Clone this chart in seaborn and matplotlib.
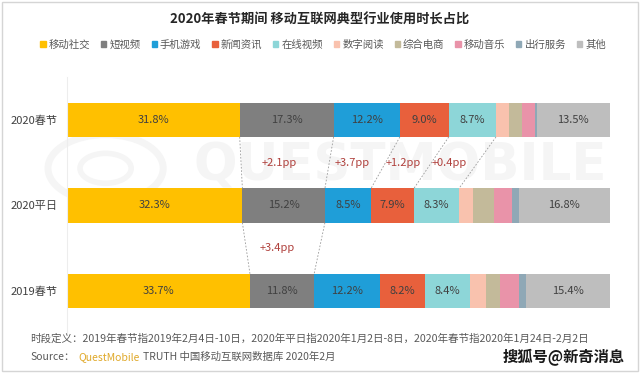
import numpy as np
import pandas as pd
import matplotlib
matplotlib.use('Agg')
import matplotlib.pyplot as plt
from matplotlib.patches import Rectangle, Circle
import seaborn as sns

periods = ['2020春节', '2020平日', '2019春节']
categories = ['移动社交', '短视频', '手机游戏', '新闻资讯', '在线视频',
              '数字阅读', '综合电商', '移动音乐', '出行服务', '其他']
colors = ['#FFC000', '#7F7F7F', '#1F9ED8', '#E8603C', '#8DD6D8',
          '#F9C2AE', '#C3BA9A', '#E993A9', '#8FA8B6', '#BEBEBE']

share_2020_spring = [31.8, 17.3, 12.2, 9.0, 8.7, 2.4, 2.4, 2.4, 0.3, 13.5]
share_2020_weekday = [32.3, 15.2, 8.5, 7.9, 8.3, 2.6, 3.8, 3.4, 1.2, 16.8]
share_2019_spring = [33.7, 11.8, 12.2, 8.2, 8.4, 2.8, 2.7, 3.5, 1.3, 15.4]

# which segments carry a % label
labelled = ['移动社交', '短视频', '手机游戏', '新闻资讯', '在线视频', '其他']

# change labels between rows: (upper row, lower row, category, text)
diff_labels = [
    ('2020春节', '2020平日', '短视频', '+2.1pp'),
    ('2020春节', '2020平日', '手机游戏', '+3.7pp'),
    ('2020春节', '2020平日', '新闻资讯', '+1.2pp'),
    ('2020春节', '2020平日', '在线视频', '+0.4pp'),
    ('2020平日', '2019春节', '短视频', '+3.4pp'),
]

df = pd.DataFrame([share_2020_spring, share_2020_weekday, share_2019_spring],
                  index=periods, columns=categories)
cum = df.cumsum(axis=1)
start = cum - df

sns.set_style('white')
plt.rcParams['font.family'] = ['Noto Sans CJK SC', 'DejaVu Sans']

fig = plt.figure(figsize=(6.4, 3.74), dpi=100)
ax = fig.add_axes([67 / 640, 1 - 334 / 374, 543 / 640, 257 / 374])

# very faint logo watermark behind everything
fig.text(0.625, 0.555, 'QUESTMOBILE', fontsize=37, fontweight='bold',
         color='#F5F5F5', ha='center', va='center', family='DejaVu Sans', zorder=-2)
for r, lw in [(0.09, 5), (0.04, 4)]:
    fig.patches.append(Circle((0.165, 0.55), r, transform=fig.transFigure,
                              fill=False, edgecolor='#F5F5F5', lw=lw, zorder=-2))

bar_h = 0.4
# stacked bars: draw cumulative totals from longest to shortest
for cat, col in reversed(list(zip(categories, colors))):
    sns.barplot(x=cum[cat].values, y=periods, order=periods, orient='h',
                color=col, saturation=1, width=bar_h, linewidth=0, ax=ax,
                zorder=2)

for i, p in enumerate(periods):
    for cat in labelled:
        mid = start.loc[p, cat] + df.loc[p, cat] / 2
        ax.text(mid, i, f'{df.loc[p, cat]:.1f}%', ha='center', va='center',
                fontsize=8, color='#404040', zorder=4)

dash_kw = dict(color='#9A9A9A', lw=0.6, ls=(0, (2, 2)), zorder=3)
drawn = set()
for up, low, cat, txt in diff_labels:
    iu, il = periods.index(up), periods.index(low)
    xs = []
    for edge in (start, cum):
        x0, x1 = edge.loc[up, cat], edge.loc[low, cat]
        key = (iu, round(x0, 2))
        if key not in drawn:
            ax.plot([x0, x1], [iu + bar_h / 2, il - bar_h / 2], **dash_kw)
            drawn.add(key)
        xs.append((x0 + x1) / 2)
    ax.text(np.mean(xs) - 1, (iu + il) / 2, txt, ha='center', va='center',
            fontsize=8, color='#B0403C', zorder=4)

ax.set_xlim(0, 100)
ax.set_ylim(2.5, -0.5)
ax.set_xlabel('')
ax.set_ylabel('')
ax.set_xticks([])
ax.tick_params(axis='y', length=0, labelsize=8, labelcolor='#404040', pad=7)
for s in ['top', 'right', 'bottom']:
    ax.spines[s].set_visible(False)
ax.spines['left'].set_color('#EDEDED')
ax.spines['left'].set_linewidth(0.8)
ax.patch.set_alpha(0)

fig.text(0.5, 1 - 20 / 374, '2020年春节期间 移动互联网典型行业使用时长占比',
         ha='center', va='center', fontsize=9.5, fontweight='bold', color='#262626')

handles = [Rectangle((0, 0), 1, 1, color=c) for c in colors]
fig.legend(handles, categories, loc='center', bbox_to_anchor=(0.505, 1 - 45 / 374),
           ncol=10, frameon=False, fontsize=7.5, handlelength=0.5, handleheight=0.5,
           handletextpad=0.3, columnspacing=1.05, labelcolor='#595959')

fig.text(30 / 640, 1 - 339 / 374,
         '时段定义：2019年春节指2019年2月4日-10日，2020年平日指2020年1月2日-8日，2020年春节指2020年1月24日-2月2日',
         ha='left', va='center', fontsize=7.6, color='#595959')
t1 = fig.text(30 / 640, 1 - 357 / 374, 'Source：', ha='left', va='center',
              fontsize=7.5, color='#595959')
t2 = ax.annotate('QuestMobile', xy=(1, 0.5), xycoords=t1, xytext=(3, 0),
                 textcoords='offset points', ha='left', va='center',
                 fontsize=7.5, color='#E0A92A', annotation_clip=False)
ax.annotate('TRUTH 中国移动互联网数据库 2020年2月', xy=(1, 0.5), xycoords=t2,
            xytext=(2, 0), textcoords='offset points', ha='left', va='center',
            fontsize=7.5, color='#595959', annotation_clip=False)
fig.text(625 / 640, 1 - 357 / 374, '搜狐号@新奇消息', ha='right', va='center',
         fontsize=11, fontweight='bold', color='#1A1A1A')

fig.patches.append(Rectangle((1.5 / 640, 3 / 374), 636 / 640, 369 / 374,
                             transform=fig.transFigure, fill=False,
                             edgecolor='#D5D5D5', lw=1))

fig.savefig('out.png', dpi=100)
